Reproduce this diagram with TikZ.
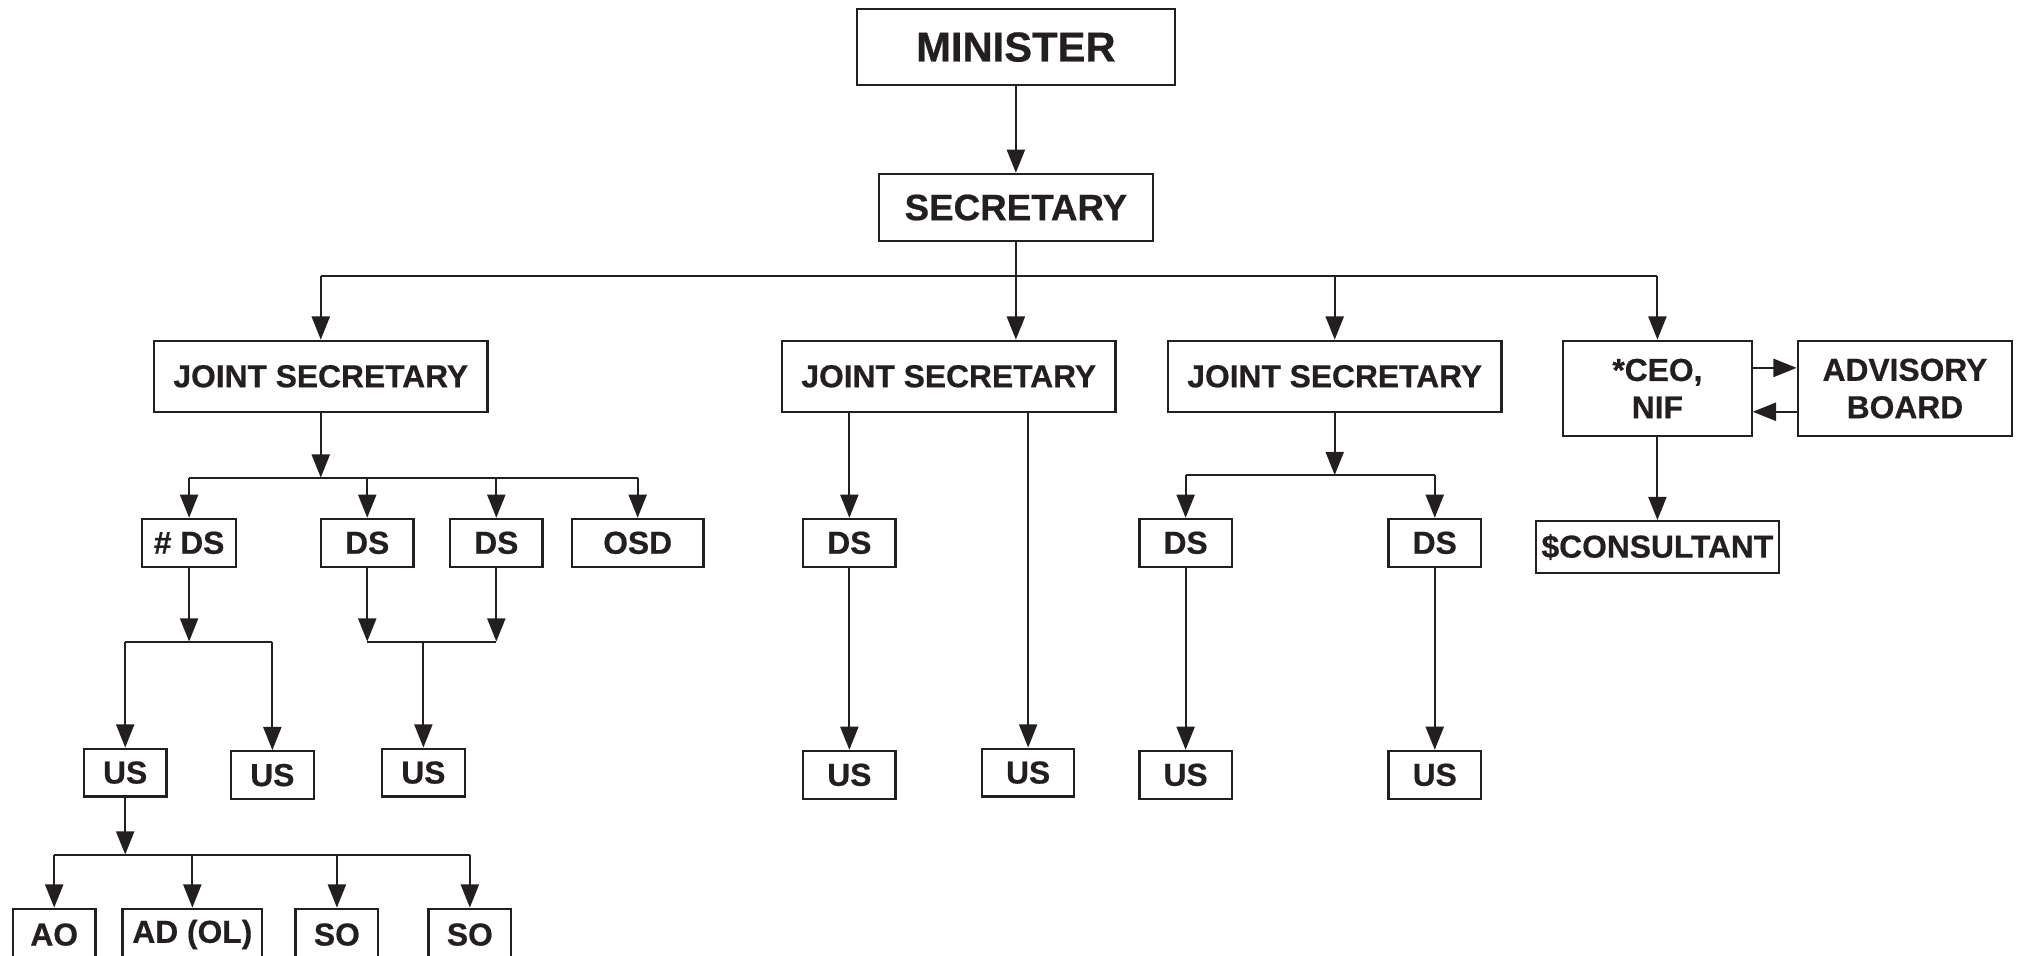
\documentclass[tikz,border=0pt]{standalone}
\usepackage{fontspec}
\setmainfont{Liberation Sans}[BoldFeatures={FakeBold=0.6}]
\usetikzlibrary{positioning}
\usetikzlibrary{arrows.meta}
\definecolor{ink}{HTML}{231F20}
\tikzset{basic/.style={draw=ink,line width=1pt,text=ink,inner sep=0pt,align=center,font=\bfseries\fontsize{14}{16.5}\selectfont}}
\tikzset{joint/.style={basic,minimum width=5.17cm,minimum height=1.1cm}}
\tikzset{deputy/.style={basic,minimum width=1.43cm,minimum height=0.74cm}}
\tikzset{under/.style={basic,minimum width=1.28cm,minimum height=0.74cm}}
\tikzset{wire/.style={draw=ink,line width=0.9pt}}
\tikzset{arr/.style={wire,-{Triangle[length=3.6mm,width=2.8mm]}}}

\begin{document}
\begin{tikzpicture}
    \useasboundingbox (0,0) rectangle (31.36,-14.8);
        \node[basic,minimum width=4.92cm,minimum height=1.18cm,font=\bfseries\fontsize{18.4}{18.4}\selectfont] (minister) at (15.74,-0.73) {MINISTER};
        \node[basic,minimum width=4.24cm,minimum height=1.04cm,font=\bfseries\fontsize{16.2}{16.2}\selectfont,below=1.34cm of minister] (secretary) {SECRETARY};
            \path[arr] (minister) -- (secretary);

        % joint secretaries and NIF
        \coordinate (top) at (0,-4.28);
        \node[joint] (js1) at (4.97,-5.83) {JOINT SECRETARY};
        \node[joint] (js2) at (14.70,-5.83) {JOINT SECRETARY};
        \node[joint] (js3) at (20.68,-5.83) {JOINT SECRETARY};
        \node[basic,minimum width=2.92cm,minimum height=1.48cm] (ceo) at (25.68,-6.02) {*CEO,\\NIF};
        \node[basic,minimum width=3.32cm,minimum height=1.48cm,right=0.68cm of ceo] (board) {ADVISORY\\BOARD};
        \node[basic,minimum width=3.76cm,minimum height=0.8cm,below=1.28cm of ceo] (consultant) {\$CONSULTANT};
            \path[arr] (secretary) -- (secretary |- js2.north);
            \path[wire] (js1.north |- top) -- (ceo.north |- top);
            \path[arr] (js1.north |- top) -- (js1.north);
            \path[arr] (js3.north |- top) -- (js3.north);
            \path[arr] (ceo.north |- top) -- (ceo.north);
            \path[arr] ([yshift=0.32cm]ceo.east) -- ([yshift=0.32cm]board.west);
            \path[arr] ([yshift=-0.36cm]board.west) -- ([yshift=-0.36cm]ceo.east);
            \path[arr] (ceo) -- (consultant);

        % first joint secretary
        \coordinate (b1) at (0,-7.40);
        \node[deputy,minimum width=1.46cm] (ds1) at (2.93,-8.41) {\# DS};
        \node[deputy] (ds2) at (5.69,-8.41) {DS};
        \node[deputy] (ds3) at (7.69,-8.41) {DS};
        \node[deputy,minimum width=2.04cm] (osd) at (9.88,-8.41) {OSD};
            \path[arr] (js1) -- (js1 |- b1);
            \path[wire] (ds1 |- b1) -- (osd |- b1);
            \foreach \n in {ds1,ds2,ds3,osd}
                \path[arr] (\n |- b1) -- (\n.north);

        \coordinate (b2) at (0,-9.94);
        \node[under] (us1) at (1.94,-11.97) {US};
        \node[under] (us2) at (4.22,-12.01) {US};
        \node[under] (us3) at (6.56,-11.97) {US};
            \path[arr] (ds1) -- (ds1 |- b2);
            \path[wire] (us1 |- b2) -- (us2 |- b2);
            \path[arr] (us1 |- b2) -- (us1);
            \path[arr] (us2 |- b2) -- (us2);
            \path[arr] (ds2) -- (ds2 |- b2);
            \path[arr] (ds3) -- (ds3 |- b2);
            \path[wire] (ds2 |- b2) -- (ds3 |- b2);
            \path[arr] (us3 |- b2) -- (us3);

        \coordinate (b3) at (0,-13.24);
        \node[under,minimum height=0.8cm] (ao) at (0.84,-14.48) {AO};
        \node[under,minimum height=0.8cm,minimum width=2.16cm] (ad) at (2.98,-14.48) {AD (OL)};
        \node[under,minimum height=0.8cm] (so1) at (5.22,-14.48) {SO};
        \node[under,minimum height=0.8cm] (so2) at (7.28,-14.48) {SO};
            \path[arr] (us1) -- (us1 |- b3);
            \path[wire] (ao |- b3) -- (so2 |- b3);
            \foreach \n in {ao,ad,so1,so2}
                \path[arr] (\n |- b3) -- (\n);

        % second joint secretary
        \node[deputy] (ds4) at (13.16,-8.41) {DS};
        \node[deputy,below=2.82cm of ds4] (us4) {US};
        \node[deputy] (us5) at (15.93,-11.97) {US};
            \path[arr] (js2.south -| ds4) -- (ds4);
            \path[arr] (js2.south -| us5) -- (us5);
            \path[arr] (ds4) -- (us4);

        % third joint secretary
        \coordinate (b4) at (0,-7.36);
        \node[deputy] (ds5) at (18.37,-8.41) {DS};
        \node[deputy] (ds6) at (22.23,-8.41) {DS};
        \node[deputy,below=2.82cm of ds5] (us6) {US};
        \node[deputy,below=2.82cm of ds6] (us7) {US};
            \path[arr] (js3) -- (js3 |- b4);
            \path[wire] (ds5 |- b4) -- (ds6 |- b4);
            \path[arr] (ds5 |- b4) -- (ds5);
            \path[arr] (ds6 |- b4) -- (ds6);
            \path[arr] (ds5) -- (us6);
            \path[arr] (ds6) -- (us7);

    \end{tikzpicture}
\end{document}
